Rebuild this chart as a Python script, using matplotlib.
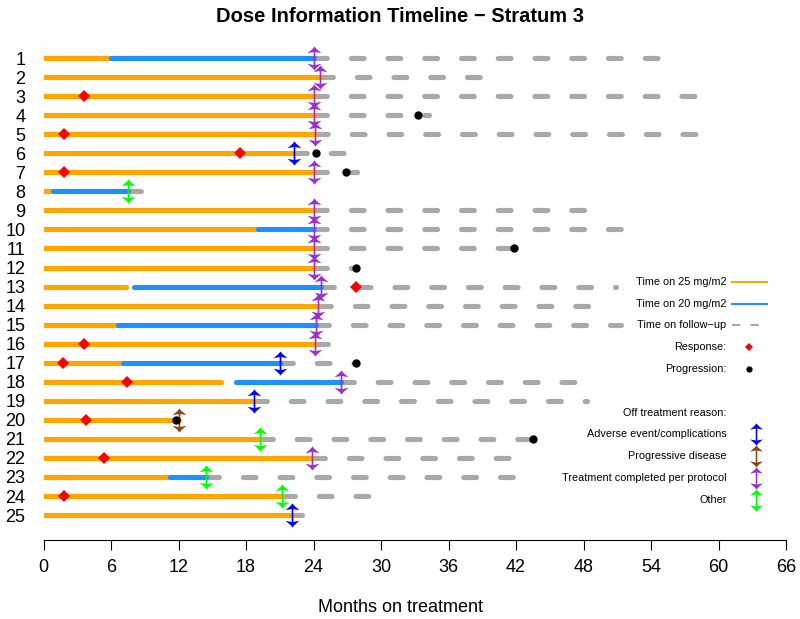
import matplotlib
matplotlib.use("Agg")
import matplotlib.pyplot as plt
from matplotlib.path import Path
import numpy as np

nan = np.nan

# one entry per patient row (1..25, top to bottom)
patients = list(range(1, 26))
dose25_end = [6.0, 24.6, 24.0, 24.0, 24.1, 22.3, 24.0, 0.8, 24.0, 19.1, 24.0, 24.0, 7.3,
              24.4, 6.6, 24.1, 7.1, 15.8, 18.7, 12.0, 19.2, 23.9, 11.2, 21.2, 22.1]
dose20_start = [6.0, nan, nan, nan, nan, nan, nan, 0.8, nan, 19.1, nan, nan, 8.0,
                nan, 6.6, nan, 7.1, 17.1, nan, nan, nan, nan, 11.2, nan, nan]
dose20_end = [24.0, nan, nan, nan, nan, nan, nan, 7.5, nan, 24.0, nan, nan, 24.7,
              nan, 24.2, nan, 21.0, 26.4, nan, nan, nan, nan, 14.4, nan, nan]
followup_end = [54.7, 39.2, 58.0, 34.3, 58.1, 27.1, 27.9, 8.9, 48.2, 51.4, 41.8, 27.8, 50.9,
                48.7, 51.3, 25.6, 27.8, 47.4, 48.3, nan, 43.5, 41.8, 41.8, 29.3, 23.0]
off_reason = ["C", "C", "C", "C", "C", "A", "C", "O", "C", "C", "C", "C", "C",
              "C", "C", "C", "A", "C", "A", "P", "O", "C", "O", "O", "A"]

resp_patient = [3, 5, 6, 7, 13, 16, 17, 18, 20, 22, 24]
resp_time = [3.6, 1.8, 17.5, 1.8, 27.8, 3.6, 1.7, 7.4, 3.75, 5.4, 1.8]
prog_patient = [4, 6, 7, 11, 12, 17, 20, 21]
prog_time = [33.3, 24.2, 26.9, 41.8, 27.8, 27.8, 11.8, 43.5]

reason_labels = ["Adverse event/complications", "Progressive disease",
                 "Treatment completed per protocol", "Other"]
reason_codes = ["A", "P", "C", "O"]
reason_colors = {"A": "#0000FF", "P": "#8B4513", "C": "#9932CC", "O": "#00FF00"}

c25 = "#FFA500"
c20 = "#1E90FF"
cfu = "#A9A9A9"

# double arrow marker (arrowhead up, arrowhead down, thin stem)
arrow = Path([(0, 1), (0.16, 0.8), (0.58, 0.44), (0.07, 0.54), (0.07, -0.54),
              (0.58, -0.44), (0.16, -0.8), (0, -1), (-0.16, -0.8), (-0.58, -0.44),
              (-0.07, -0.54), (-0.07, 0.54), (-0.58, 0.44), (-0.16, 0.8), (0, 1)],
             closed=True)

plt.rcParams['font.family'] = ['Liberation Sans', 'DejaVu Sans']

fig = plt.figure(figsize=(8, 6.19), dpi=100)
ax = fig.add_axes([0.0544, 0.1276, 0.9281, 0.8094])

lw = 3.7
for i, p in enumerate(patients):
    ax.plot([0, dose25_end[i]], [p, p], color=c25, lw=lw, solid_capstyle="round", zorder=2)
    if not np.isnan(dose20_start[i]):
        ax.plot([dose20_start[i], dose20_end[i]], [p, p], color=c20, lw=lw,
                solid_capstyle="round", zorder=2)
    off_t = np.nanmax([dose25_end[i], dose20_end[i]])
    if not np.isnan(followup_end[i]):
        ax.plot([off_t, followup_end[i]], [p, p], color=cfu, lw=lw,
                ls=(0, (2.5, 4.65)), dash_capstyle="round", zorder=1)
    ax.plot(off_t, p, marker=arrow, ms=17.3, color=reason_colors[off_reason[i]],
            mew=0, zorder=3)

ax.plot(resp_time, resp_patient, "D", color="red", ms=6.5, mew=0, zorder=4)
ax.plot(prog_time, prog_patient, "o", color="black", ms=6, mew=0, zorder=4)

# legend
lx_text = 60.7
ly0 = 12.75
dy = 1.145
fs = 7.8
ax.text(lx_text, ly0, "Time on 25 mg/m2", ha="right", va="center", fontsize=fs)
ax.plot([61.2, 64.3], [ly0, ly0], color=c25, lw=1.5, clip_on=False)
ax.text(lx_text, ly0 + dy, "Time on 20 mg/m2", ha="right", va="center", fontsize=fs)
ax.plot([61.2, 64.3], [ly0 + dy, ly0 + dy], color=c20, lw=1.5, clip_on=False)
ax.text(lx_text, ly0 + 2 * dy, "Time on follow\u2212up", ha="right", va="center", fontsize=fs)
ax.plot([61.2, 64.3], [ly0 + 2 * dy, ly0 + 2 * dy], color=cfu, lw=1.5,
        ls=(0, (4.0, 4.8)), clip_on=False)
ax.text(lx_text, ly0 + 3 * dy, "Response:", ha="right", va="center", fontsize=fs)
ax.plot(62.7, ly0 + 3 * dy, "D", color="red", ms=4.2, mew=0, clip_on=False)
ax.text(lx_text, ly0 + 4 * dy, "Progression:", ha="right", va="center", fontsize=fs)
ax.plot(62.7, ly0 + 4 * dy, "o", color="black", ms=4.5, mew=0, clip_on=False)
ax.text(lx_text, ly0 + 6 * dy, "Off treatment reason:", ha="right", va="center", fontsize=fs)
for k, (lab, code) in enumerate(zip(reason_labels, reason_codes)):
    yy = ly0 + (7 + k) * dy
    ax.text(lx_text, yy, lab, ha="right", va="center", fontsize=fs)
    ax.plot(63.3, yy, marker=arrow, ms=16, color=reason_colors[code], mew=0, clip_on=False)

ax.set_xlim(0, 66)
ax.set_ylim(26.31, 0)
ax.set_xticks(np.arange(0, 67, 6))
ax.set_yticks(patients)
ax.set_yticklabels([str(p) for p in patients])
ax.tick_params(axis="y", length=0, pad=13, labelsize=13)
ax.tick_params(axis="x", length=7, width=0.8, pad=7, labelsize=13)
for s in ["top", "right", "left"]:
    ax.spines[s].set_visible(False)
ax.spines["bottom"].set_linewidth(0.8)

fig.text(0.5, 1 - 16 / 619, "Dose Information Timeline \u2212 Stratum 3",
         ha="center", va="center", fontsize=14.5, fontweight="bold")
fig.text(0.5, 1 - 607 / 619, "Months on treatment", ha="center", va="center", fontsize=13)

fig.savefig("out.png", dpi=100)
